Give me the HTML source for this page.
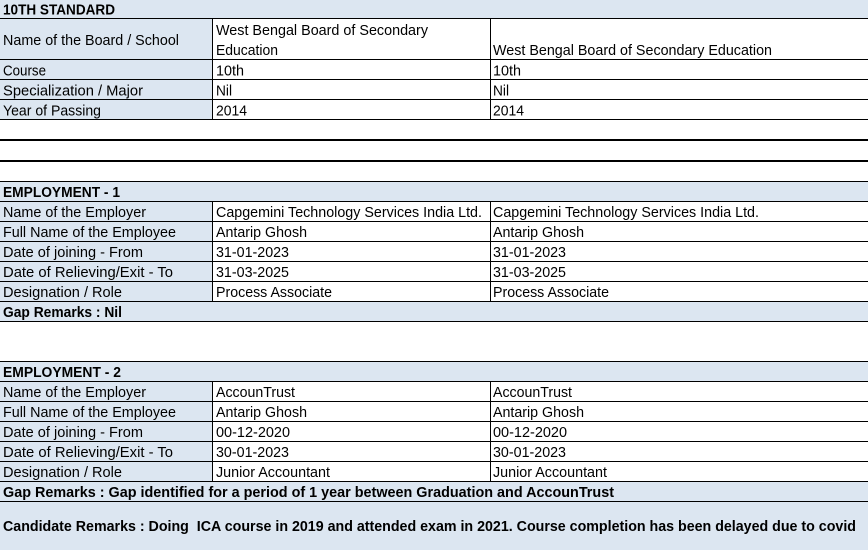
<!DOCTYPE html>
<html>
<head>
<meta charset="utf-8">
<style>
html,body{margin:0;padding:0;background:#fff;}
svg{display:block;}
text{font-family:"Liberation Sans",Arial,sans-serif;font-size:14.5px;fill:#000;}
.b{font-weight:bold;}
</style>
</head>
<body>
<svg width="868" height="550" viewBox="0 0 868 550" xmlns="http://www.w3.org/2000/svg">
<!-- backgrounds -->
<rect x="0" y="0" width="868" height="550" fill="#ffffff"/>
<rect x="0" y="0" width="868" height="18" fill="#dce6f1"/>
<rect x="0" y="18" width="212" height="101" fill="#dce6f1"/>
<rect x="0" y="181" width="868" height="20" fill="#dce6f1"/>
<rect x="0" y="201" width="212" height="100" fill="#dce6f1"/>
<rect x="0" y="301" width="868" height="20" fill="#dce6f1"/>
<rect x="0" y="361" width="868" height="20" fill="#dce6f1"/>
<rect x="0" y="381" width="212" height="100" fill="#dce6f1"/>
<rect x="0" y="481" width="868" height="69" fill="#dce6f1"/>

<!-- horizontal lines -->
<g fill="#000">
<rect x="0" y="18" width="868" height="1"/>
<rect x="0" y="59" width="868" height="1"/>
<rect x="0" y="79" width="868" height="1"/>
<rect x="0" y="99" width="868" height="1"/>
<rect x="0" y="119" width="868" height="1"/>
<rect x="0" y="139" width="868" height="2"/>
<rect x="0" y="160" width="868" height="2"/>
<rect x="0" y="181" width="868" height="1"/>
<rect x="0" y="201" width="868" height="1"/>
<rect x="0" y="221" width="868" height="1"/>
<rect x="0" y="241" width="868" height="1"/>
<rect x="0" y="261" width="868" height="1"/>
<rect x="0" y="281" width="868" height="1"/>
<rect x="0" y="301" width="868" height="1"/>
<rect x="0" y="321" width="868" height="1"/>
<rect x="0" y="361" width="868" height="1"/>
<rect x="0" y="381" width="868" height="1"/>
<rect x="0" y="401" width="868" height="1"/>
<rect x="0" y="421" width="868" height="1"/>
<rect x="0" y="441" width="868" height="1"/>
<rect x="0" y="461" width="868" height="1"/>
<rect x="0" y="481" width="868" height="1"/>
<rect x="0" y="501" width="868" height="1"/>
<!-- vertical lines -->
<rect x="212" y="18" width="1" height="101"/>
<rect x="490" y="18" width="1" height="101"/>
<rect x="212" y="201" width="1" height="100"/>
<rect x="490" y="201" width="1" height="100"/>
<rect x="212" y="381" width="1" height="100"/>
<rect x="490" y="381" width="1" height="100"/>
</g>

<!-- 10th standard -->
<text class="b" x="3" y="14.5" textLength="112" lengthAdjust="spacingAndGlyphs">10TH STANDARD</text>
<text x="3" y="45" textLength="176" lengthAdjust="spacingAndGlyphs">Name of the Board / School</text>
<text x="216" y="35" textLength="212" lengthAdjust="spacingAndGlyphs">West Bengal Board of Secondary</text>
<text x="216" y="55" textLength="62" lengthAdjust="spacingAndGlyphs">Education</text>
<text x="493" y="55" textLength="279" lengthAdjust="spacingAndGlyphs">West Bengal Board of Secondary Education</text>

<text x="3" y="75.5" textLength="43" lengthAdjust="spacingAndGlyphs">Course</text>
<text x="216" y="75.5" textLength="28" lengthAdjust="spacingAndGlyphs">10th</text>
<text x="493" y="75.5" textLength="28" lengthAdjust="spacingAndGlyphs">10th</text>

<text x="3" y="95.5" textLength="140" lengthAdjust="spacingAndGlyphs">Specialization / Major</text>
<text x="216" y="95.5" textLength="16" lengthAdjust="spacingAndGlyphs">Nil</text>
<text x="493" y="95.5" textLength="16" lengthAdjust="spacingAndGlyphs">Nil</text>

<text x="3" y="115.5" textLength="98" lengthAdjust="spacingAndGlyphs">Year of Passing</text>
<text x="216" y="115.5" textLength="31" lengthAdjust="spacingAndGlyphs">2014</text>
<text x="493" y="115.5" textLength="31" lengthAdjust="spacingAndGlyphs">2014</text>

<!-- employment 1 -->
<text class="b" x="3" y="197" textLength="117" lengthAdjust="spacingAndGlyphs">EMPLOYMENT - 1</text>
<text x="3" y="217" textLength="143" lengthAdjust="spacingAndGlyphs">Name of the Employer</text>
<text x="216" y="217" textLength="266" lengthAdjust="spacingAndGlyphs">Capgemini Technology Services India Ltd.</text>
<text x="493" y="217" textLength="266" lengthAdjust="spacingAndGlyphs">Capgemini Technology Services India Ltd.</text>

<text x="3" y="237" textLength="173" lengthAdjust="spacingAndGlyphs">Full Name of the Employee</text>
<text x="216" y="237" textLength="91" lengthAdjust="spacingAndGlyphs">Antarip Ghosh</text>
<text x="493" y="237" textLength="91" lengthAdjust="spacingAndGlyphs">Antarip Ghosh</text>

<text x="3" y="257" textLength="140" lengthAdjust="spacingAndGlyphs">Date of joining - From</text>
<text x="216" y="257" textLength="73" lengthAdjust="spacingAndGlyphs">31-01-2023</text>
<text x="493" y="257" textLength="73" lengthAdjust="spacingAndGlyphs">31-01-2023</text>

<text x="3" y="277" textLength="170" lengthAdjust="spacingAndGlyphs">Date of Relieving/Exit - To</text>
<text x="216" y="277" textLength="73" lengthAdjust="spacingAndGlyphs">31-03-2025</text>
<text x="493" y="277" textLength="73" lengthAdjust="spacingAndGlyphs">31-03-2025</text>

<text x="3" y="297" textLength="119" lengthAdjust="spacingAndGlyphs">Designation / Role</text>
<text x="216" y="297" textLength="116" lengthAdjust="spacingAndGlyphs">Process Associate</text>
<text x="493" y="297" textLength="116" lengthAdjust="spacingAndGlyphs">Process Associate</text>

<text class="b" x="3" y="317" textLength="119" lengthAdjust="spacingAndGlyphs">Gap Remarks : Nil</text>

<!-- employment 2 -->
<text class="b" x="3" y="377" textLength="118" lengthAdjust="spacingAndGlyphs">EMPLOYMENT - 2</text>
<text x="3" y="397" textLength="143" lengthAdjust="spacingAndGlyphs">Name of the Employer</text>
<text x="216" y="397" textLength="79" lengthAdjust="spacingAndGlyphs">AccounTrust</text>
<text x="493" y="397" textLength="79" lengthAdjust="spacingAndGlyphs">AccounTrust</text>

<text x="3" y="417" textLength="173" lengthAdjust="spacingAndGlyphs">Full Name of the Employee</text>
<text x="216" y="417" textLength="91" lengthAdjust="spacingAndGlyphs">Antarip Ghosh</text>
<text x="493" y="417" textLength="91" lengthAdjust="spacingAndGlyphs">Antarip Ghosh</text>

<text x="3" y="437" textLength="140" lengthAdjust="spacingAndGlyphs">Date of joining - From</text>
<text x="216" y="437" textLength="74" lengthAdjust="spacingAndGlyphs">00-12-2020</text>
<text x="493" y="437" textLength="74" lengthAdjust="spacingAndGlyphs">00-12-2020</text>

<text x="3" y="457" textLength="170" lengthAdjust="spacingAndGlyphs">Date of Relieving/Exit - To</text>
<text x="216" y="457" textLength="73" lengthAdjust="spacingAndGlyphs">30-01-2023</text>
<text x="493" y="457" textLength="73" lengthAdjust="spacingAndGlyphs">30-01-2023</text>

<text x="3" y="477" textLength="119" lengthAdjust="spacingAndGlyphs">Designation / Role</text>
<text x="216" y="477" textLength="114" lengthAdjust="spacingAndGlyphs">Junior Accountant</text>
<text x="493" y="477" textLength="114" lengthAdjust="spacingAndGlyphs">Junior Accountant</text>

<text class="b" x="3" y="497" textLength="611" lengthAdjust="spacingAndGlyphs">Gap Remarks : Gap identified for a period of 1 year between Graduation and AccounTrust</text>

<text class="b" x="3" y="531" textLength="853" lengthAdjust="spacingAndGlyphs">Candidate Remarks : Doing&#160; ICA course in 2019 and attended exam in 2021. Course completion has been delayed due to covid</text>
</svg>
</body>
</html>
